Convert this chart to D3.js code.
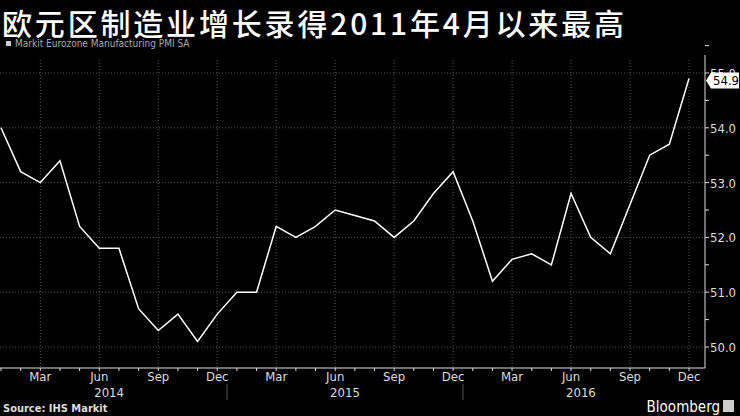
<!DOCTYPE html><html><head><meta charset="utf-8"><script src="https://cdn.jsdelivr.net/npm/d3@7"></script>
<style>body{margin:0;background:#000}svg{display:block}</style></head><body><svg id="c" width="740" height="416"></svg>
<script>
const months=["Jan","Feb","Mar","Apr","May","Jun","Jul","Aug","Sep","Oct","Nov","Dec"];
const years=[2014,2015,2016];
const values=[54.0,53.2,53.0,53.4,52.2,51.8,51.8,50.7,50.3,50.6,50.1,50.6,
51.0,51.0,52.2,52.0,52.2,52.5,52.4,52.3,52.0,52.3,52.8,53.2,
52.3,51.2,51.6,51.7,51.5,52.8,52.0,51.7,52.6,53.5,53.7,54.9];
const yTicks=[50,51,52,53,54,55];
const svg=d3.select("#c");
const x=d3.scaleLinear().domain([0,35]).range([1,689]);
const y=d3.scaleLinear().domain([50,55]).range([347,73]);
const axX=705, axY=368;
const f="'Liberation Sans Narrow','DejaVu Sans Condensed',Arial,sans-serif";
const gi=d3.range(36).filter(i=>i%3==2);
svg.selectAll(".vg").data(gi).enter().append("line").attr("x1",d=>x(d)).attr("x2",d=>x(d)).attr("y1",60).attr("y2",axY)
 .attr("stroke","#555").attr("stroke-dasharray","1,2");
svg.selectAll(".hg").data(yTicks).enter().append("line").attr("x1",0).attr("x2",axX).attr("y1",d=>y(d)).attr("y2",d=>y(d))
 .attr("stroke","#555").attr("stroke-dasharray","1,2");
svg.append("line").attr("x1",axX).attr("x2",axX).attr("y1",55).attr("y2",axY).attr("stroke","#ddd");
svg.append("line").attr("x1",0).attr("x2",axX).attr("y1",axY).attr("y2",axY).attr("stroke","#ddd");
svg.selectAll(".yt").data(d3.range(49.5,55.6,0.5).filter(v=>v>=49.7)).enter().append("line")
 .attr("x1",axX).attr("x2",axX+4).attr("y1",d=>y(d)).attr("y2",d=>y(d)).attr("stroke","#ddd");
svg.selectAll(".yl").data(yTicks).enter().append("text").attr("x",axX+5).attr("y",d=>y(d)+5)
 .attr("fill","#ddd").attr("font-family",f).attr("font-size",13).text(d=>d.toFixed(1));
svg.selectAll(".xt").data(d3.range(36)).enter().append("line").attr("x1",d=>x(d)).attr("x2",d=>x(d))
 .attr("y1",axY).attr("y2",axY+3).attr("stroke","#ddd");
svg.selectAll(".xl").data(gi).enter().append("text").attr("x",d=>x(d)).attr("y",381).attr("text-anchor","middle")
 .attr("fill","#ddd").attr("font-family",f).attr("font-size",13).text(d=>months[d%12]);
svg.selectAll(".yr").data(years).enter().append("text").attr("x",(d,i)=>x(i*12+5.5)).attr("y",397).attr("text-anchor","middle")
 .attr("fill","#ddd").attr("font-family",f).attr("font-size",13).text(d=>d);
svg.selectAll(".ys").data([1,2]).enter().append("line").attr("x1",d=>x(d*12-0.5)).attr("x2",d=>x(d*12-0.5))
 .attr("y1",384).attr("y2",400).attr("stroke","#555");
svg.append("path").datum(values).attr("fill","none").attr("stroke","#fff").attr("stroke-width",1.5)
 .attr("d",d3.line().x((d,i)=>x(i)).y(d=>y(d)));
const ly=y(values[35])+2;
svg.append("path").attr("d",`M${axX+1},${ly} L${axX+6},${ly-8} L${axX+34},${ly-8} L${axX+34},${ly+8} L${axX+6},${ly+8} Z`).attr("fill","#fff");
svg.append("text").attr("x",axX+8).attr("y",ly+5).attr("font-family",f).attr("font-size",13).attr("fill","#000").text(values[35].toFixed(1));
svg.append("text").attr("x",2).attr("y",35).attr("fill","#fff").attr("font-family","'Noto Sans CJK SC',sans-serif").attr("font-size",30).attr("font-weight","500").attr("textLength",622).text("欧元区制造业增长录得2011年4月以来最高");
svg.append("rect").attr("x",6).attr("y",41).attr("width",5).attr("height",5).attr("fill","#ccc");
svg.append("text").attr("x",15).attr("y",47).attr("fill","#aaa").attr("font-family",f).attr("font-size",10).text("Markit Eurozone Manufacturing PMI SA");
svg.append("text").attr("x",3).attr("y",412).attr("fill","#ddd").attr("font-family","'DejaVu Sans Condensed',sans-serif").attr("font-weight","bold").attr("font-size",11).text("Source: IHS Markit");
svg.append("text").attr("x",720).attr("y",412).attr("text-anchor","end").attr("fill","#fff").attr("font-family",f).attr("font-size",15).text("Bloomberg");
svg.append("rect").attr("x",723).attr("y",400).attr("width",11).attr("height",12).attr("fill","#ccc");
</script></body></html>
